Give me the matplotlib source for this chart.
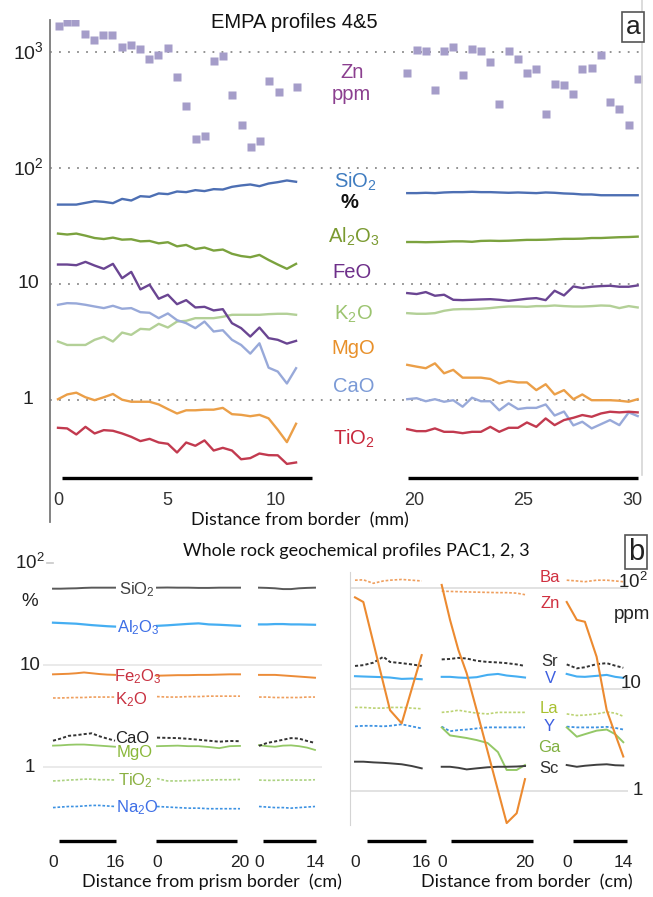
import matplotlib
matplotlib.use('Agg')
import matplotlib.pyplot as plt
from matplotlib.ticker import NullLocator
from matplotlib.transforms import blended_transform_factory
from matplotlib.lines import Line2D

W, H = 653, 897
plt.rcParams['font.family'] = ['Liberation Sans', 'DejaVu Sans']
plt.rcParams['mathtext.fontset'] = 'custom'
plt.rcParams['mathtext.rm'] = 'Liberation Sans'
plt.rcParams['mathtext.it'] = 'Liberation Sans:italic'
plt.rcParams['mathtext.bf'] = 'Liberation Sans:bold'

# ----------------------------------------------------------------- DATA (a)
top_left_x = [0.00, 0.42, 0.84, 1.26, 1.68, 2.10, 2.52, 2.94, 3.36, 3.78, 4.20, 4.62, 5.04,
              5.46, 5.88, 6.30, 6.72, 7.14, 7.56, 7.98, 8.40, 8.82, 9.24, 9.66, 10.08, 10.50, 10.92]
top_right_x = [19.69, 20.12, 20.54, 20.96, 21.38, 21.80, 22.23, 22.66, 23.07, 23.50, 23.91, 24.34, 24.77,
               25.18, 25.61, 26.04, 26.45, 26.88, 27.31, 27.72, 28.15, 28.58, 28.99, 29.42, 29.85, 30.26]
zn_left_x = [0.06, 0.40, 0.79, 1.24, 1.65, 2.06, 2.48, 2.92, 3.33, 3.76, 4.19, 4.60, 5.03,
             5.46, 5.89, 6.32, 6.73, 7.16, 7.57, 8.00, 8.43, 8.84, 9.27, 9.69, 10.12, 10.95]
zn_left = [1675, 1815, 1843, 1438, 1276, 1420, 1410, 1119, 1156, 1067, 883, 942, 1089,
           613, 342, 178, 190, 836, 924, 425, 236, 152, 170, 562, 452, 497]
zn_right = [664, 1055, 1020, 470, 1020, 1120, 642, 1076, 1034, 826, 356, 1020, 883,
            668, 723, 294, 530, 523, 435, 723, 738, 955, 373, 327, 236, 589]

sio2_l = [48.4, 48.4, 48.4, 50.1, 51.8, 51.1, 49.8, 54.2, 52.5, 57.2, 56.5, 60.4, 59.6, 62.8,
          62.0, 64.5, 63.3, 65.8, 65.3, 68.9, 70.8, 72.2, 69.8, 73.6, 75.6, 78.2, 76.2]
al2o3_l = [27.2, 26.7, 27.2, 26.1, 24.9, 24.4, 25.1, 24.1, 24.3, 23.3, 23.5, 22.4, 22.9, 21.1,
           21.7, 20.0, 20.6, 19.4, 19.8, 18.2, 17.4, 17.0, 17.8, 16.1, 14.7, 13.5, 14.9]
feo_l = [14.7, 14.7, 14.5, 15.5, 14.4, 13.5, 14.9, 11.2, 12.7, 8.96, 9.84, 7.44, 8.06, 6.68,
         7.24, 6.26, 6.34, 5.90, 6.05, 4.58, 4.15, 3.51, 4.20, 3.40, 3.29, 3.05, 3.22]
k2o_l = [3.18, 2.97, 2.97, 2.97, 3.29, 3.49, 3.18, 3.80, 3.63, 4.09, 4.04, 4.52, 4.20, 4.73,
         4.80, 5.06, 5.06, 5.06, 5.20, 5.41, 5.41, 5.41, 5.41, 5.48, 5.52, 5.52, 5.41]
cao_l = [6.60, 6.82, 6.78, 6.60, 6.38, 6.18, 6.47, 6.10, 6.18, 5.70, 5.63, 5.06, 5.56, 4.86,
         4.58, 4.15, 4.73, 3.88, 3.98, 3.29, 2.97, 2.50, 3.07, 1.89, 1.75, 1.38, 1.87]
mgo_l = [1.01, 1.11, 1.15, 1.05, 0.99, 1.05, 1.12, 1.00, 0.96, 0.96, 0.96, 0.91, 0.83, 0.76,
         0.81, 0.81, 0.82, 0.82, 0.85, 0.75, 0.74, 0.72, 0.74, 0.69, 0.55, 0.43, 0.62]
tio2_l = [0.572, 0.565, 0.501, 0.583, 0.511, 0.546, 0.539, 0.511, 0.478, 0.439, 0.459, 0.427, 0.416,
          0.350, 0.427, 0.400, 0.445, 0.364, 0.384, 0.364, 0.306, 0.313, 0.343, 0.332, 0.331, 0.279, 0.287]

sio2_r = [60.8, 60.8, 61.2, 60.8, 61.6, 62.0, 62.0, 62.4, 62.0, 62.0, 61.6, 61.2, 61.6,
          61.2, 60.8, 61.6, 61.2, 60.4, 60.0, 59.2, 59.2, 58.3, 58.3, 58.3, 58.3, 58.3]
al2o3_r = [23.0, 23.0, 22.9, 23.0, 23.1, 23.3, 23.3, 23.1, 23.5, 23.6, 23.5, 23.6, 23.8,
           24.0, 24.0, 24.1, 24.3, 24.5, 24.5, 24.6, 24.9, 24.9, 25.1, 25.3, 25.4, 25.6]
feo_r = [8.33, 8.17, 8.50, 7.90, 8.06, 7.29, 7.24, 7.29, 7.34, 7.38, 7.29, 7.15, 7.29,
         7.44, 7.54, 7.24, 8.73, 7.95, 9.51, 9.20, 9.45, 9.57, 9.64, 9.45, 9.45, 9.70]
k2o_r = [5.59, 5.52, 5.52, 5.59, 5.86, 6.02, 6.06, 6.06, 6.10, 6.18, 6.30, 6.38, 6.38,
         6.34, 6.43, 6.43, 6.51, 6.43, 6.38, 6.38, 6.43, 6.51, 6.47, 6.18, 6.43, 6.26]
mgo_r = [2.00, 1.93, 1.87, 2.06, 1.69, 1.81, 1.55, 1.55, 1.55, 1.51, 1.38, 1.45, 1.41,
         1.41, 1.21, 1.36, 1.11, 1.21, 1.01, 1.11, 0.99, 0.99, 0.99, 0.98, 0.96, 1.01]
cao_r = [1.01, 1.03, 0.97, 1.01, 0.96, 0.99, 0.87, 1.04, 0.97, 0.97, 0.81, 0.93, 0.83,
         0.85, 0.85, 0.91, 0.73, 0.79, 0.60, 0.645, 0.565, 0.615, 0.667, 0.603, 0.777, 0.722]
tio2_r = [0.557, 0.535, 0.535, 0.565, 0.528, 0.528, 0.514, 0.528, 0.528, 0.583, 0.528, 0.572, 0.572,
          0.636, 0.583, 0.689, 0.603, 0.667, 0.698, 0.737, 0.712, 0.761, 0.787, 0.777, 0.787, 0.777]

top_yticks = [1, 10, 100, 1000]
top_ytick_labels = ['1', '10', '10$^\\mathregular{2}$', '10$^\\mathregular{3}$']
top_xticks_l = [0, 5, 10]
top_xticks_r = [20, 25, 30]

# ----------------------------------------------------------------- DATA (b)
wr_x1 = [0, 2, 4, 6, 8, 10, 12, 14, 16]
wr_x2 = [0, 2.5, 5, 7.5, 10, 12.5, 15, 17.5, 20]
wr_x3 = [0, 2, 4, 6, 8, 10, 12, 14]
wr_sio2 = ([56, 56, 56.3, 56.5, 57, 57.3, 57.3, 57.3, 57.3],
           [57.3, 57.5, 57.3, 57.3, 57, 57, 57.3, 57.3, 57.3],
           [57.3, 57, 56.5, 55.5, 55.5, 56.5, 57, 57.3])
wr_al2o3 = ([26, 25.8, 25.6, 25.4, 25, 24.6, 24.3, 24, 23.8],
            [24.2, 24.5, 24.9, 25.3, 25.6, 25, 24.8, 24.5, 24.2],
            [25, 25, 25.2, 25.2, 25, 25, 24.9, 24.8])
wr_fe2o3 = ([8.1, 8.15, 8.2, 8.3, 8.45, 8.3, 8.15, 8.05, 8.0],
            [7.85, 7.9, 7.95, 7.95, 8.0, 8.0, 8.05, 8.1, 8.1],
            [8.0, 8.0, 8.0, 7.9, 7.8, 7.7, 7.6, 7.5])
wr_k2o = ([4.75, 4.75, 4.78, 4.8, 4.8, 4.85, 4.85, 4.85, 4.85],
          [4.9, 4.85, 4.85, 4.9, 4.9, 4.95, 4.95, 4.95, 4.95],
          [4.85, 4.85, 4.8, 4.8, 4.8, 4.8, 4.85, 4.85])
wr_cao = ([1.81, 1.9, 2.02, 2.05, 2.1, 2.14, 2.0, 1.9, 1.81],
          [1.94, 1.93, 1.92, 1.89, 1.85, 1.81, 1.77, 1.8, 1.79],
          [1.61, 1.72, 1.78, 1.85, 1.92, 1.9, 1.8, 1.72])
wr_mgo = ([1.62, 1.63, 1.65, 1.66, 1.66, 1.64, 1.62, 1.6, 1.58],
          [1.6, 1.61, 1.62, 1.6, 1.6, 1.57, 1.53, 1.6, 1.61],
          [1.64, 1.6, 1.58, 1.62, 1.63, 1.6, 1.55, 1.47])
wr_tio2 = ([0.73, 0.735, 0.745, 0.75, 0.76, 0.76, 0.75, 0.75, 0.745],
           [0.77, 0.73, 0.73, 0.735, 0.74, 0.745, 0.75, 0.75, 0.755],
           [0.745, 0.74, 0.74, 0.745, 0.745, 0.745, 0.745, 0.75])
wr_na2o = ([0.40, 0.405, 0.41, 0.41, 0.415, 0.42, 0.42, 0.415, 0.41],
           [0.41, 0.405, 0.40, 0.395, 0.395, 0.39, 0.39, 0.39, 0.39],
           [0.41, 0.405, 0.40, 0.40, 0.395, 0.40, 0.405, 0.41])

tr_x1 = [0, 2.0, 4.4, 6.8, 8.4, 11.2, 13.6, 16.0]
tr_x2 = [0, 2, 4, 6, 8.4, 11, 13.5, 15.6, 18, 20]
tr_x3 = [0, 2.5, 4.5, 7.4, 9.9, 12, 14]
tr_ba = ([118, 119, 110, 116, 118, 120, 118, 116],
         [92, 91.5, 91, 90.5, 90, 89.5, 89, 89, 88, 85],
         [118, 116, 114, 118, 118, 116, 114])
tr_zn = ([80, 72, 28.7, 11.4, 6.2, 4.6, 10, 21.6],
         [106, 48, 24.3, 14.3, 6.2, 2.46, 1.01, 0.48, 0.6, 1.3],
         [72, 48, 46, 20.8, 6.2, 3.6, 2.17])
tr_sr = ([16.9, 17.2, 18.2, 20.8, 18.5, 18.0, 17.5, 16.9],
         [19.6, 19.8, 20.3, 20.0, 19.0, 18.5, 18.3, 18.0, 17.5, 16.9],
         [17.5, 16.0, 16.4, 17.6, 18.0, 17.0, 16.2])
tr_v = ([13.4, 13.3, 13.2, 13.1, 13.0, 12.6, 12.7, 12.5],
        [13.2, 13.2, 13.0, 12.9, 13.1, 13.8, 14.1, 13.6, 13.3, 13.0],
        [14.1, 13.3, 13.2, 13.5, 13.8, 13.2, 12.9])
tr_la = ([6.6, 6.6, 6.5, 6.5, 6.6, 6.6, 6.5, 6.4],
         [5.9, 6.0, 6.2, 6.0, 5.8, 5.7, 5.9, 5.9, 5.9, 5.9],
         [5.7, 5.5, 5.55, 5.7, 5.95, 5.8, 5.4])
tr_y = ([4.3, 4.35, 4.35, 4.3, 4.35, 4.5, 4.3, 4.1],
        [4.27, 3.85, 3.95, 4.0, 4.1, 4.2, 4.2, 4.2, 4.2, 4.2],
        [4.27, 4.2, 4.2, 4.2, 4.25, 4.15, 4.0])
tr_ga = (None,
         [4.2, 3.5, 3.4, 3.3, 3.15, 2.95, 2.4, 1.6, 1.6, 1.79],
         [4.2, 3.4, 3.6, 3.9, 4.0, 3.6, 3.0])
tr_sc = ([1.93, 1.93, 1.9, 1.88, 1.86, 1.82, 1.75, 1.66],
         [1.72, 1.72, 1.68, 1.62, 1.66, 1.7, 1.72, 1.72, 1.73, 1.75],
         [1.79, 1.72, 1.76, 1.8, 1.82, 1.78, 1.77])
profile_lengths = [16, 20, 14]

# ----------------------------------------------------------------- FIGURE
fig = plt.figure(figsize=(W / 100, H / 100), dpi=100)


def add_ax(x0, x1, y0, y1):
    return fig.add_axes([x0 / W, 1 - y1 / H, (x1 - x0) / W, (y1 - y0) / H])


def ylims(y0, y1, ref_y, ref_log, ppd):
    return 10 ** (ref_log - (y1 - ref_y) / ppd), 10 ** (ref_log + (ref_y - y0) / ppd)


def bare(ax, ylim):
    ax.set_yscale('log')
    ax.set_ylim(*ylim)
    ax.patch.set_alpha(0)
    for s in ax.spines.values():
        s.set_visible(False)
    ax.set_yticks([])
    ax.yaxis.set_minor_locator(NullLocator())
    ax.tick_params(axis='x', length=0)


def ft(x, y, s, **kw):
    kw.setdefault('ha', 'center')
    kw.setdefault('va', 'center')
    return fig.text(x / W, 1 - y / H, s, **kw)


# ======================= panel a =======================
A_TOP, A_BOT, A_DATA_BOT = 20, 522, 488
ylim_bg = ylims(A_TOP, A_BOT, 399.7, 0.0, 115.8)
ylim_a = ylims(A_TOP, A_DATA_BOT, 399.7, 0.0, 115.8)

bg = add_ax(50, 643, A_TOP, A_BOT)
bg.set_yscale('log')
bg.set_ylim(*ylim_bg)
bg.set_xlim(0, 1)
for s in ['top', 'right', 'bottom']:
    bg.spines[s].set_visible(False)
bg.spines['left'].set_color('#7a7a7a')
bg.spines['left'].set_linewidth(1.3)
bg.set_xticks([])
bg.set_yticks([])
bg.yaxis.set_minor_locator(NullLocator())
for v in top_yticks:
    bg.axhline(v, color='#8a8a8a', lw=1.3, ls=(0, (1, 4)))
tb = blended_transform_factory(bg.transAxes, bg.transData)
for v, lab in zip(top_yticks, top_ytick_labels):
    bg.text(-22 / 593, v, lab, transform=tb, ha='center', va='center', fontsize=14, color='#222')

fig.add_artist(Line2D([642 / W, 642 / W], [1.0, 1 - 475 / H], color='#d6d6d6', lw=1.2))

PPMM = 21.8
tl = add_ax(50, 330, A_TOP, A_DATA_BOT)
bare(tl, ylim_a)
tl.set_xlim(-8 / PPMM, 272 / PPMM)
tr = add_ax(395, 643, A_TOP, A_DATA_BOT)
bare(tr, ylim_a)
tr.set_xlim(20 - 19 / PPMM, 20 + 229 / PPMM)

series_a = [
    (sio2_l, sio2_r, '#4d6fb3'),
    (al2o3_l, al2o3_r, '#7ba23e'),
    (k2o_l, k2o_r, '#b3d097'),
    (cao_l, cao_r, '#98a9d9'),
    (feo_l, feo_r, '#6a4592'),
    (mgo_l, mgo_r, '#eb9f48'),
    (tio2_l, tio2_r, '#c23a4f'),
]
for yl, yr, c in series_a:
    tl.plot(top_left_x, yl, color=c, lw=1.7)
    tr.plot(top_right_x, yr, color=c, lw=1.7)
tl.plot(zn_left_x, zn_left, 's', ms=5.3, color='#a59dc9', mec='none')
tr.plot(top_right_x, zn_right, 's', ms=5.3, color='#a59dc9', mec='none')

for ax, ticks, bar in [(tl, top_xticks_l, (0.18, 11.65)), (tr, top_xticks_r, (19.72, 30.28))]:
    ax.set_xticks(ticks)
    ax.set_xticklabels([str(t) for t in ticks])
    ax.tick_params(axis='x', length=0, pad=3, labelsize=13, labelcolor='#333')
    ax.plot(bar, [0.0214, 0.0214], transform=ax.get_xaxis_transform(), color='black',
            lw=2.4, solid_capstyle='butt', clip_on=False)

ft(294, 22, 'EMPA profiles 4&5', fontsize=14.5, color='#111')
ft(633, 27, 'a', fontsize=19, color='#222',
   bbox=dict(boxstyle='square,pad=0.12', fc='white', ec='#555', lw=1.2))
ft(300, 520, 'Distance from border  (mm)', fontsize=13, family=['Lato', 'DejaVu Sans'], color='#111')

LS = 14.5
ft(352, 73, 'Zn', fontsize=LS, color='#8b3f8f')
ft(351, 95, 'ppm', fontsize=LS, color='#8b3f8f')
ft(355, 182, 'SiO$_\\mathregular{2}$', fontsize=LS, color='#3f7cc0')
ft(349, 203, '%', fontsize=LS, color='#111', fontweight='bold')
ft(354, 237, 'Al$_\\mathregular{2}$O$_\\mathregular{3}$', fontsize=LS, color='#7a9a30')
ft(352, 273, 'FeO', fontsize=LS, color='#6e2f8a')
ft(353, 314, 'K$_\\mathregular{2}$O', fontsize=LS, color='#9cc470')
ft(353, 348, 'MgO', fontsize=LS, color='#e8902a')
ft(354, 387, 'CaO', fontsize=LS, color='#7b9ad6')
ft(354, 439, 'TiO$_\\mathregular{2}$', fontsize=LS, color='#c8283c')

# ======================= panel b =======================
B_TOP, B_BOT = 555, 852
ft(356, 551, 'Whole rock geochemical profiles PAC1, 2, 3', fontsize=13,
   family=['Lato', 'DejaVu Sans'], color='#111')
ft(636, 552, 'b', fontsize=21, color='#222',
   bbox=dict(boxstyle='square,pad=0.1', fc='white', ec='#555', lw=1.2))

# --- left background (%)
ylim_bl = ylims(B_TOP, B_BOT, 767, 0.0, 102)
bgl = add_ax(43, 322, B_TOP, B_BOT)
bare(bgl, ylim_bl)
bgl.set_xlim(0, 1)
bgl.set_xticks([])
bgl.patch.set_alpha(1)
for v in [1, 10]:
    bgl.axhline(v, color='#e6e6e6', lw=1.2)
bgl.axhline(100, xmin=4 / 279, xmax=10 / 279, color='#c8c8c8', lw=1.2)
tbl = blended_transform_factory(bgl.transAxes, bgl.transData)
for v, lab in zip([1, 10, 100], ['1', '10', '10$^\\mathregular{2}$']):
    bgl.text(-13 / 279, v, lab, transform=tbl, ha='center', va='center', fontsize=13.5, color='#222')
ft(30, 601, '%', fontsize=13.5, color='#222')

# --- right background (ppm)
ylim_br_bg = ylims(572, 825, 790.7, 0.0, 101.6)
bgr = add_ax(350, 628, 572, 825)
bare(bgr, ylim_br_bg)
bgr.set_xlim(0, 1)
bgr.set_xticks([])
bgr.spines['left'].set_visible(True)
bgr.spines['left'].set_color('#d4d4d4')
for v in [1, 10, 100]:
    bgr.axhline(v, color='#dadada', lw=1.1)
ft(633, 582, '10$^\\mathregular{2}$', fontsize=13.5, color='#222')
ft(631, 683, '10', fontsize=13.5, color='#222')
ft(638, 790, '1', fontsize=13.5, color='#222')
ft(632, 614, 'ppm', fontsize=13.5, color='#222')

ylim_br = ylims(B_TOP, B_BOT, 790.7, 0.0, 101.6)


def data_ax(px0, px1, xmax, ylim, pad=7):
    scale = (px1 - px0) / xmax
    ax = add_ax(px0 - pad, px1 + pad, B_TOP, B_BOT)
    bare(ax, ylim)
    ax.set_xlim(-pad / scale, xmax + pad / scale)
    ax.set_xticks([0, xmax])
    ax.set_xticklabels(['0', str(xmax)])
    ax.tick_params(axis='x', length=0, pad=2, labelsize=12.5, labelcolor='#222')
    return ax


left_spans = [(53, 115), (157, 240), (259, 315)]
right_spans = [(355, 421.7), (441.7, 525), (566.7, 623.3)]
left_bars = [(1.55, 16.26), (-0.24, 19.35), (1.08, 14.25)]
right_bars = [(2.88, 17.0), (2.23, 21.9), (1.56, 14.93)]
BAR_Y = 11 / 297

DOT = (0, (1.6, 1.1))
left_series = [
    (wr_sio2, '#595959', '-', 1.4),
    (wr_al2o3, '#45aef2', '-', 1.6),
    (wr_fe2o3, '#ec8c38', '-', 1.4),
    (wr_k2o, '#ef9f5e', DOT, 1.2),
    (wr_mgo, '#94c867', '-', 1.3),
    (wr_cao, '#333333', DOT, 1.4),
    (wr_tio2, '#acd282', DOT, 1.2),
    (wr_na2o, '#3d92e2', DOT, 1.2),
]
right_series = [
    (tr_ba, '#ef9f5e', DOT, 1.2),
    (tr_sr, '#333333', DOT, 1.4),
    (tr_v, '#45aef2', '-', 1.5),
    (tr_la, '#bcd374', DOT, 1.2),
    (tr_y, '#3d92e2', DOT, 1.3),
    (tr_ga, '#94c867', '-', 1.4),
    (tr_sc, '#404040', '-', 1.4),
    (tr_zn, '#ec8a30', '-', 1.5),
]
wr_xs = [wr_x1, wr_x2, wr_x3]
tr_xs = [tr_x1, tr_x2, tr_x3]

for i in range(3):
    axl = data_ax(left_spans[i][0], left_spans[i][1], profile_lengths[i], ylim_bl)
    for vals, c, ls, lw in left_series:
        axl.plot(wr_xs[i], vals[i], color=c, ls=ls, lw=lw)
    axl.plot(left_bars[i], [BAR_Y, BAR_Y], transform=axl.get_xaxis_transform(), color='black',
             lw=2.4, solid_capstyle='butt', clip_on=False)
    axr = data_ax(right_spans[i][0], right_spans[i][1], profile_lengths[i], ylim_br)
    for vals, c, ls, lw in right_series:
        if vals[i] is not None:
            axr.plot(tr_xs[i], vals[i], color=c, ls=ls, lw=lw)
    axr.plot(right_bars[i], [BAR_Y, BAR_Y], transform=axr.get_xaxis_transform(), color='black',
             lw=2.4, solid_capstyle='butt', clip_on=False)

BL = 12
ft(137, 590, 'SiO$_\\mathregular{2}$', fontsize=BL, color='#404040')
ft(138, 628, 'Al$_\\mathregular{2}$O$_\\mathregular{3}$', fontsize=BL, color='#3d6ee6')
ft(138, 677, 'Fe$_\\mathregular{2}$O$_\\mathregular{3}$', fontsize=BL, color='#c83040')
ft(131, 700, 'K$_\\mathregular{2}$O', fontsize=BL, color='#c83040')
ft(132, 738, 'CaO', fontsize=BL, color='#202020')
ft(135, 752, 'MgO', fontsize=BL, color='#8ab83a')
ft(135, 781, 'TiO$_\\mathregular{2}$', fontsize=BL, color='#8ab040')
ft(137, 808, 'Na$_\\mathregular{2}$O', fontsize=BL, color='#3d6ee6')

ft(550, 577, 'Ba', fontsize=BL, color='#d03040')
ft(550, 604, 'Zn', fontsize=BL, color='#d03040')
ft(550, 661, 'Sr', fontsize=BL, color='#303030')
ft(550, 678, 'V', fontsize=BL, color='#3d5fe0')
ft(549, 708, 'La', fontsize=BL, color='#a8c030')
ft(549, 726, 'Y', fontsize=BL, color='#3d5fe0')
ft(549, 748, 'Ga', fontsize=BL, color='#80b040')
ft(549, 768, 'Sc', fontsize=BL, color='#303030')

ft(212, 882, 'Distance from prism border  (cm)', fontsize=13, family=['Lato', 'DejaVu Sans'], color='#111')
ft(527, 882, 'Distance from border  (cm)', fontsize=13, family=['Lato', 'DejaVu Sans'], color='#111')

fig.savefig('out.png', dpi=100)
